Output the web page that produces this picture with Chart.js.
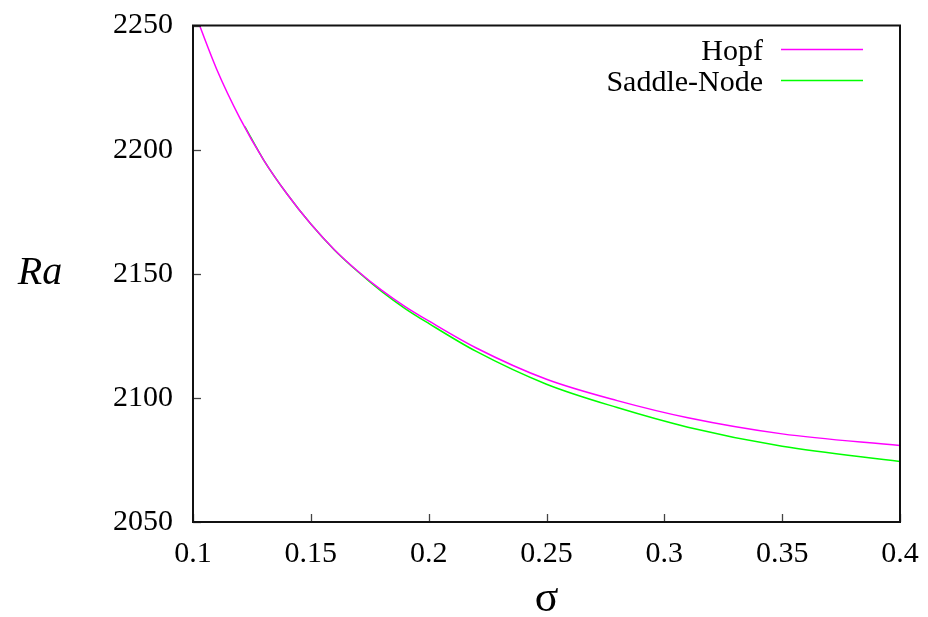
<!DOCTYPE html>
<html>
<head>
<meta charset="utf-8">
<script src="https://cdn.jsdelivr.net/npm/chart.js@4.4.1/dist/chart.umd.min.js"></script>
<style>
  html, body { margin: 0; padding: 0; background: #fff; }
  #grafico { display: block; }
</style>
</head>
<body>
<canvas id="grafico" width="928" height="617"></canvas>
<script>
// valores (sigma, Ra)
const sigmaHopf = [0.1, 0.11, 0.12, 0.13, 0.14, 0.15, 0.16, 0.17, 0.18, 0.19, 0.2, 0.22, 0.25, 0.28, 0.31, 0.35, 0.4];
const raHopf = [2257, 2232.5, 2212.5, 2195.8, 2182.0, 2170.0, 2159.7, 2151.0, 2143.4, 2136.8, 2131.0, 2120.2, 2107.5, 2098.9, 2092.0, 2085.5, 2080.8];

const sigmaSN = [0.122, 0.13, 0.14, 0.15, 0.16, 0.17, 0.18, 0.19, 0.2, 0.22, 0.25, 0.28, 0.31, 0.35, 0.4];
const raSN = [2209.3, 2195.8, 2182.0, 2170.0, 2159.6, 2150.8, 2142.9, 2136.0, 2130.0, 2118.8, 2105.5, 2096.1, 2088.2, 2080.5, 2074.4];

const nomes = ['Hopf', 'Saddle-Node'];
const cores = ['#ff00ff', '#00ff00'];

const fonte = '"Liberation Serif", "DejaVu Serif", serif';

const pontos = (xs, ys) => xs.map((x, i) => ({ x, y: ys[i] }));

// moldura, ticks para dentro, legenda estilo gnuplot e rótulo Ra
const extras = {
  id: 'extras',
  afterDraw(chart) {
    const { ctx, chartArea: a, scales } = chart;
    ctx.save();

    ctx.strokeStyle = '#444';
    ctx.lineWidth = 1.3;
    scales.x.ticks.forEach(t => {
      const px = Math.round(scales.x.getPixelForValue(t.value)) + 0.5;
      ctx.beginPath();
      ctx.moveTo(px, a.bottom);
      ctx.lineTo(px, a.bottom - 8);
      ctx.stroke();
    });
    scales.y.ticks.forEach(t => {
      const py = Math.round(scales.y.getPixelForValue(t.value)) + 0.5;
      ctx.beginPath();
      ctx.moveTo(a.left, py);
      ctx.lineTo(a.left + 8, py);
      ctx.stroke();
    });

    ctx.strokeStyle = '#111';
    ctx.lineWidth = 2;
    ctx.strokeRect(a.left, a.top, a.right - a.left, a.bottom - a.top);

    // legenda
    ctx.font = '30px ' + fonte;
    ctx.fillStyle = '#000';
    ctx.textAlign = 'right';
    ctx.textBaseline = 'alphabetic';
    nomes.forEach((nome, i) => {
      const yLinha = 49.5 + i * 31;
      ctx.fillText(nome, 763, yLinha + 10);
      ctx.strokeStyle = cores[i];
      ctx.lineWidth = 1.5;
      ctx.beginPath();
      ctx.moveTo(781, yLinha);
      ctx.lineTo(863, yLinha);
      ctx.stroke();
    });

    ctx.font = 'italic 40px ' + fonte;
    ctx.textAlign = 'center';
    ctx.textBaseline = 'middle';
    ctx.fillText('Ra', 40, 273);
    ctx.restore();
  }
};

new Chart(document.getElementById('grafico'), {
  type: 'line',
  data: {
    datasets: [
      { label: nomes[0], data: pontos(sigmaHopf, raHopf), borderColor: cores[0], borderWidth: 1.5, pointRadius: 0, cubicInterpolationMode: 'monotone', fill: false },
      { label: nomes[1], data: pontos(sigmaSN, raSN), borderColor: cores[1], borderWidth: 1.5, pointRadius: 0, cubicInterpolationMode: 'monotone', fill: false }
    ]
  },
  options: {
    responsive: false,
    animation: false,
    layout: { padding: { top: 25.5, right: 28, left: 0, bottom: 0 } },
    plugins: { legend: { display: false }, tooltip: { enabled: false } },
    scales: {
      x: {
        type: 'linear',
        min: 0.1,
        max: 0.4,
        afterFit: s => { s.height = 95; s.paddingLeft = 0; s.paddingRight = 0; },
        grid: { display: false, drawTicks: false },
        border: { display: false },
        ticks: {
          stepSize: 0.05,
          padding: 14,
          color: '#000',
          font: { family: fonte, size: 30 },
          callback: v => String(+v.toFixed(2))
        },
        title: {
          display: true,
          text: 'σ',
          color: '#000',
          font: { family: fonte, size: 44, lineHeight: 0.8 },
          padding: { top: 0, bottom: 0 }
        }
      },
      y: {
        min: 2050,
        max: 2250,
        afterFit: s => { s.width = 193; s.paddingTop = 0; s.paddingBottom = 0; },
        grid: { display: false, drawTicks: false },
        border: { display: false },
        ticks: {
          stepSize: 50,
          padding: 20,
          color: '#000',
          font: { family: fonte, size: 30 },
          callback: v => String(v)
        }
      }
    }
  },
  plugins: [extras]
});
</script>
</body>
</html>
